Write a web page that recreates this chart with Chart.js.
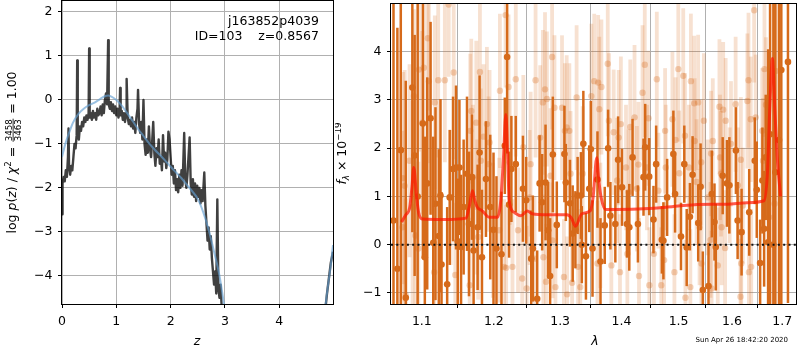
<!DOCTYPE html>
<html>
<head>
<meta charset="utf-8">
<script src="https://cdn.jsdelivr.net/npm/chart.js@4.4.0/dist/chart.umd.min.js"></script>
<style>
  html, body { margin: 0; padding: 0; background: #fff; }
  #wrap { position: relative; width: 800px; height: 350px; overflow: hidden; }
  #pz { position: absolute; left: 0; top: 0; }
  #sp { position: absolute; left: 335px; top: 0; }
</style>
</head>
<body>
<div id="wrap">
  <canvas id="pz" width="340" height="350" style="width:340px;height:350px"></canvas>
  <canvas id="sp" width="465" height="350" style="width:465px;height:350px"></canvas>
</div>
<script>
// ------------------------------------------------------------
// LEFT PANEL: log p(z)
// ------------------------------------------------------------
const zGrid = [
  0.00, 0.01, 0.03, 0.05, 0.07, 0.09, 0.11, 0.12, 0.13, 0.15, 0.17, 0.19, 0.21, 0.23, 0.25, 0.27,
  0.28, 0.29, 0.31, 0.33, 0.35, 0.37, 0.39, 0.41, 0.43, 0.45, 0.47, 0.49, 0.50, 0.51, 0.53, 0.55,
  0.57, 0.59, 0.61, 0.63, 0.65, 0.67, 0.69, 0.71, 0.73, 0.75, 0.77, 0.79, 0.81, 0.83, 0.85, 0.86,
  0.88, 0.90, 0.92, 0.94, 0.96, 0.98, 1.00, 1.02, 1.04, 1.06, 1.07, 1.08, 1.10, 1.12, 1.14, 1.16,
  1.18, 1.19, 1.21, 1.23, 1.25, 1.27, 1.29, 1.31, 1.33, 1.35, 1.37, 1.39, 1.40, 1.42, 1.44, 1.46,
  1.48, 1.50, 1.52, 1.54, 1.56, 1.58, 1.60, 1.62, 1.64, 1.66, 1.68, 1.70, 1.72, 1.74, 1.76, 1.78,
  1.80, 1.82, 1.84, 1.86, 1.88, 1.90, 1.92, 1.94, 1.96, 1.98, 2.00, 2.02, 2.04, 2.06, 2.08, 2.10,
  2.12, 2.14, 2.16, 2.18, 2.20, 2.22, 2.25, 2.27, 2.29, 2.31, 2.35, 2.37, 2.39, 2.41, 2.43, 2.45,
  2.47, 2.49, 2.51, 2.53, 2.55, 2.57, 2.59, 2.62, 2.64, 2.66, 2.68, 2.70, 2.72, 2.74, 2.76, 2.78,
  2.80, 2.82, 2.84, 2.86, 2.88, 2.90, 2.92, 2.94, 2.97, 3.00, 4.80, 4.85, 4.88, 4.92, 4.95, 4.99
];
const lnpz = [
  -2.60, -1.90, -1.75, -1.85, -1.60, -1.75, -1.30, -0.65, -1.50, -1.70, -1.50, -1.60, -1.30, -1.00, -1.10, -0.80,
  0.90, -0.75, -0.90, -0.60, -0.70, -0.50, -0.60, -0.40, -0.50, -0.35, -0.45, -0.30, 1.17, -0.40, -0.30, -0.45,
  -0.25, -0.40, -0.30, -0.45, -0.20, -0.35, -0.30, -0.15, -0.35, -0.10, -0.30, 0.00, 0.15, -0.10, 1.36, -0.10,
  -0.20, -0.05, -0.25, -0.10, -0.30, -0.15, -0.35, -0.20, -0.40, -0.25, 0.27, -0.35, -0.25, -0.45, -0.30, -0.50,
  -0.30, 0.48, -0.40, -0.55, -0.45, -0.60, -0.40, -0.65, -0.50, -0.75, -0.40, -0.20, 0.23, -0.55, -0.75, -0.50,
  -0.90, 0.00, -1.00, -1.25, -0.90, -1.20, -0.60, -1.10, -1.30, -0.95, -0.50, -1.20, -1.50, -1.10, -1.30, -0.90,
  -1.45, -1.30, -1.60, -0.80, -1.40, -1.20, -1.55, -1.35, -0.72, -0.90, -1.30, -1.70, -1.50, -1.90, -1.60, -2.05,
  -1.80, -2.10, -1.70, -2.00, -1.60, -1.95, -0.75, -1.80, -2.00, -1.70, -0.85, -1.90, -2.15, -1.80, -2.20, -1.90,
  -2.30, -1.95, -2.20, -2.00, -2.35, -2.05, -2.30, -1.65, -2.40, -2.80, -3.20, -2.90, -3.40, -3.10, -3.60, -3.90,
  -4.20, -3.90, -4.40, -2.26, -4.30, -4.50, -4.20, -4.70, -5.20, -6.00, -5.60, -4.75, -4.40, -4.00, -3.70, -3.45
];
const zTempl = [
  0.00, 0.05, 0.10, 0.15, 0.20, 0.30, 0.40, 0.50, 0.60, 0.70, 0.80, 0.85, 0.90, 1.00, 1.10, 1.20,
  1.30, 1.40, 1.50, 1.60, 1.70, 1.80, 1.90, 2.00, 2.10, 2.20, 2.30, 2.40, 2.50, 2.60, 2.70, 2.80,
  2.90, 3.00, 3.10, 4.75, 4.80, 4.85, 4.90, 4.95, 4.99
];
const lnpTempl = [
  -1.30, -1.05, -0.85, -0.68, -0.52, -0.32, -0.20, -0.12, -0.06, 0.02, 0.09, 0.10, 0.08, 0.00, -0.13, -0.30,
  -0.48, -0.66, -0.82, -0.98, -1.12, -1.25, -1.38, -1.52, -1.65, -1.78, -1.93, -2.08, -2.25, -2.55, -2.95, -3.45,
  -4.00, -4.80, -5.80, -6.50, -5.40, -4.70, -4.20, -3.75, -3.30
];
const zTicks = [0, 1, 2, 3, 4];
const lnpTicks = [-4, -3, -2, -1, 0, 1, 2];

// ------------------------------------------------------------
// RIGHT PANEL: spectrum
// ------------------------------------------------------------
const modelWave = [
  1.0733, 1.0790, 1.0840, 1.0870, 1.0893, 1.0930, 1.0960, 1.1015, 1.1300, 1.1603, 1.1650, 1.1695,
  1.1730, 1.1765, 1.1833, 1.1932, 1.2053, 1.2100, 1.2140, 1.2175, 1.2200, 1.2225, 1.2298, 1.2400,
  1.2495, 1.2570, 1.2800, 1.3108, 1.3180, 1.3243, 1.3345, 1.3480, 1.3530, 1.3588, 1.3625, 1.3660,
  1.3736, 1.4285, 1.4800, 1.5292, 1.5910, 1.6300, 1.6630, 1.6700, 1.6750, 1.6800, 1.6850, 1.6900, 1.6966
];
const modelFlux = [
  0.47, 0.62, 0.77, 1.20, 1.60, 1.00, 0.65, 0.53, 0.52, 0.55, 0.80, 1.12,
  0.90, 0.77, 0.70, 0.57, 0.57, 0.91, 1.80, 2.70, 1.90, 0.91, 0.67, 0.60,
  0.70, 0.64, 0.62, 0.62, 0.55, 0.38, 0.64, 0.70, 1.00, 1.80, 1.30, 0.98,
  0.73, 0.74, 0.78, 0.83, 0.84, 0.87, 0.91, 1.50, 2.90, 3.86, 2.80, 1.80, 1.00
];

const darkWave = [
  1.0630, 1.0680, 1.0724, 1.0789, 1.0875, 1.0905, 1.0945, 1.1014, 1.1040, 1.1072, 1.1117, 1.1153,
  1.1183, 1.1228, 1.1251, 1.1265, 1.1342, 1.1377, 1.1423, 1.1464, 1.1488, 1.1511, 1.1534, 1.1570,
  1.1617, 1.1645, 1.1687, 1.1710, 1.1767, 1.1795, 1.1829, 1.1886, 1.1948, 1.1995, 1.2038, 1.2111,
  1.2160, 1.2194, 1.2223, 1.2257, 1.2322, 1.2429, 1.2478, 1.2554, 1.2579, 1.2645, 1.2682, 1.2721,
  1.2773, 1.2813, 1.2844, 1.2886, 1.2948, 1.3068, 1.3090, 1.3156, 1.3199, 1.3242, 1.3278, 1.3331,
  1.3345, 1.3370, 1.3412, 1.3466, 1.3492, 1.3519, 1.3600, 1.3650, 1.3720, 1.3776, 1.3814, 1.3897,
  1.3943, 1.4010, 1.4094, 1.4133, 1.4189, 1.4281, 1.4378, 1.4407, 1.4477, 1.4552, 1.4599, 1.4700,
  1.4728, 1.4794, 1.4906, 1.4937, 1.5044, 1.5104, 1.5148, 1.5207, 1.5256, 1.5360, 1.5404, 1.5446,
  1.5552, 1.5614, 1.5665, 1.5690, 1.5821, 1.5903, 1.5949, 1.6076, 1.6109, 1.6186, 1.6336, 1.6446,
  1.6486, 1.6553, 1.6599, 1.6633, 1.6665, 1.6713, 1.6753, 1.6820, 1.6860, 1.6935, 1.6982, 1.7119
];
const darkFlux = [
  0.50, -0.50, 1.96, -1.10, 3.26, 1.85, 1.00, 2.51, -0.26, 1.27, 2.62, 0.04,
  0.85, 0.18, 1.02, -0.41, -0.82, 0.98, 1.57, 1.60, 0.07, 1.60, -0.05, 0.78,
  1.47, 0.43, 1.40, -0.12, 0.36, 1.91, -0.26, 1.36, 0.78, 0.31, -0.08, -0.20,
  2.05, 3.89, 0.83, 1.57, 1.67, 1.16, 0.92, -0.29, -0.08, -1.12, 1.27, 0.88,
  1.29, 0.30, -0.65, 1.87, 0.41, 1.88, 1.29, 0.86, 0.23, 0.31, 1.02, 1.02,
  0.00, 2.09, -0.24, 1.16, 1.98, -0.08, 1.35, -0.35, 0.40, 2.00, 0.60, 0.43,
  1.76, 1.19, 0.43, 0.36, 1.81, 0.43, 1.40, 2.02, 1.41, 0.52, 1.67, 0.10,
  0.08, 0.98, 1.88, 1.05, 0.17, 1.67, -0.06, 0.58, 1.45, 0.45, 1.20, -0.94,
  -0.86, 1.05, 0.47, -0.05, 1.43, 1.27, 1.23, 1.95, 0.50, 0.26, 0.67, 1.74,
  1.14, -0.38, 1.33, 0.33, 1.81, 0.05, 2.29, 0.00, 1.50, 2.17, 3.62, 3.79
];
const darkErr = [
  5.0, 5.0, 4.0, 4.5, 3.0, 2.5, 4.0, 2.8, 2.5, 2.2, 2.0, 2.2,
  2.0, 1.8, 2.0, 1.5, 1.6, 1.4, 1.5, 1.7, 1.3, 1.4, 1.5, 1.4,
  1.6, 1.5, 1.3, 1.5, 1.3, 1.6, 1.4, 1.2, 1.5, 1.6, 1.5, 1.3,
  1.0, 2.0, 1.1, 1.1, 1.0, 1.1, 0.9, 1.0, 1.1, 1.0, 1.0, 1.0,
  1.2, 1.0, 1.2, 1.2, 0.9, 1.0, 0.8, 0.9, 1.0, 0.8, 0.8, 0.9,
  0.8, 1.1, 0.9, 0.9, 1.0, 1.0, 1.0, 0.9, 0.8, 0.8, 0.7, 0.8,
  0.9, 0.8, 0.7, 0.9, 0.8, 0.8, 0.8, 0.9, 0.8, 0.7, 0.8, 0.7,
  0.8, 0.8, 0.9, 0.8, 0.7, 0.8, 0.8, 0.7, 0.8, 0.8, 0.9, 0.8,
  0.9, 0.9, 0.8, 0.9, 0.8, 0.9, 1.0, 0.9, 0.8, 0.9, 0.9, 0.9,
  1.0, 0.9, 1.1, 1.2, 1.3, 4.0, 4.0, 5.0, 5.0, 4.0, 5.0, 5.0
];

const lightWave = [
  1.0746, 1.0753, 1.0775, 1.0789, 1.0838, 1.0878, 1.0895, 1.0915, 1.0954, 1.0962, 1.1006, 1.1027,
  1.1080, 1.1094, 1.1165, 1.1174, 1.1220, 1.1310, 1.1363, 1.1390, 1.1432, 1.1454, 1.1655, 1.1663,
  1.1677, 1.1701, 1.1748, 1.1760, 1.1775, 1.1800, 1.1812, 1.1852, 1.1900, 1.1924, 1.1938, 1.1985,
  1.2078, 1.2088, 1.2150, 1.2171, 1.2180, 1.2215, 1.2233, 1.2273, 1.2322, 1.2356, 1.2418, 1.2435,
  1.2485, 1.2530, 1.2545, 1.2605, 1.2620, 1.2691, 1.2732, 1.2740, 1.2765, 1.2780, 1.2794, 1.2850,
  1.2875, 1.2880, 1.2912, 1.2927, 1.3030, 1.3060, 1.3075, 1.3104, 1.3110, 1.3146, 1.3165, 1.3190,
  1.3262, 1.3285, 1.3320, 1.3359, 1.3500, 1.3547, 1.3600, 1.3612, 1.3630, 1.3648, 1.3665, 1.3770,
  1.3790, 1.3830, 1.3869, 1.3927, 1.3954, 1.3975, 1.3990, 1.4077, 1.4100, 1.4121, 1.4150, 1.4223,
  1.4264, 1.4290, 1.4300, 1.4361, 1.4400, 1.4438, 1.4465, 1.4480, 1.4560, 1.4611, 1.4639, 1.4690,
  1.4740, 1.4758, 1.4770, 1.4889, 1.4925, 1.4945, 1.4995, 1.5013, 1.5085, 1.5116, 1.5125, 1.5189,
  1.5215, 1.5225, 1.5286, 1.5295, 1.5330, 1.5359, 1.5385, 1.5415, 1.5420, 1.5465, 1.5539, 1.5590,
  1.5601, 1.5610, 1.5633, 1.5727, 1.5759, 1.5770, 1.5789, 1.5800, 1.5830, 1.5867, 1.5878, 1.5955,
  1.5980, 1.6070, 1.6115, 1.6165, 1.6172, 1.6180, 1.6211, 1.6300, 1.6322, 1.6330, 1.6367, 1.6375,
  1.6434, 1.6465, 1.6595, 1.6610, 1.6640, 1.6670, 1.6733, 1.6845, 1.6865
];
const lightFlux = [
  0.36, 1.38, 1.22, -1.05, 1.74, 0.78, 3.08, 0.19, -0.08, 3.63, 2.53, 3.67,
  4.28, 3.39, -0.57, 2.95, 3.41, 3.41, 4.98, 0.98, 3.57, -0.63, -0.84, 2.36,
  2.77, 1.40, 2.53, 0.78, 0.16, 3.58, 1.74, 2.24, 2.50, 1.67, 2.12, 0.30,
  0.30, 3.19, -0.46, 4.76, -0.48, 3.27, 1.71, -0.46, 3.43, 0.30, -0.70, 2.02,
  -0.91, 0.98, 1.67, -0.29, 3.41, 2.22, 2.95, -0.26, 3.22, -0.77, 3.02, 1.43,
  3.89, 0.09, 2.84, -0.88, 2.84, -0.67, 2.36, 2.43, -1.03, 2.36, 1.47, -0.79,
  3.05, -0.46, -0.88, 1.47, 3.08, 3.39, -0.39, 3.36, 2.81, 0.40, 3.27, 3.75,
  2.57, -0.43, 2.33, 1.33, 2.22, -0.57, 2.50, 1.60, -0.19, 1.09, 2.44, 2.64,
  1.16, 1.66, -0.65, 3.15, 3.73, 1.60, 2.62, -0.84, -0.19, 3.43, 1.12, -0.84,
  -0.32, 2.36, 1.60, 2.60, -0.57, 2.17, 3.64, 1.48, 3.50, 2.26, -1.10, 1.60,
  -0.88, 3.39, 2.93, 2.15, 1.30, 2.95, 0.36, 1.71, -0.39, 2.57, 0.98, 0.10,
  1.89, -0.91, 2.15, -0.43, 2.86, 1.81, 1.47, 0.36, 2.80, -0.07, 2.57, 1.23,
  2.09, 2.91, 1.23, -1.08, 1.76, -0.39, 0.81, 2.98, 3.41, -0.57, 2.60, -0.46,
  4.86, 2.64, 2.36, 1.74, 3.64, 2.90, 0.57, 0.85, 3.60
];
const lightErr = [
  2.0, 2.2, 2.4, 2.0, 2.0, 2.2, 1.8, 1.6, 1.8, 1.7, 1.9, 1.6,
  1.5, 1.7, 1.6, 1.8, 1.6, 1.7, 1.5, 1.4, 1.8, 1.5, 1.4, 1.6,
  1.5, 1.5, 1.7, 1.4, 1.3, 1.6, 1.5, 1.5, 1.6, 1.4, 1.5, 1.4,
  1.5, 1.6, 1.4, 1.5, 1.3, 1.5, 1.3, 1.4, 1.6, 1.3, 1.4, 1.5,
  1.3, 1.4, 1.5, 1.3, 1.6, 1.5, 1.5, 1.3, 1.6, 1.2, 1.4, 1.4,
  1.5, 1.2, 1.5, 1.3, 1.5, 1.2, 1.4, 1.5, 1.2, 1.4, 1.3, 1.3,
  1.5, 1.2, 1.3, 1.4, 1.5, 1.4, 1.3, 1.4, 1.5, 1.3, 1.4, 1.5,
  1.4, 1.2, 1.3, 1.3, 1.4, 1.2, 1.4, 1.3, 1.2, 1.3, 1.4, 1.5,
  1.3, 1.3, 1.2, 1.4, 1.5, 1.3, 1.4, 1.2, 1.2, 1.4, 1.2, 1.2,
  1.2, 1.3, 1.3, 1.4, 1.2, 1.3, 1.5, 1.3, 1.4, 1.3, 1.2, 1.3,
  1.2, 1.4, 1.4, 1.3, 1.3, 1.4, 1.2, 1.3, 1.2, 1.4, 1.2, 1.2,
  1.3, 1.2, 1.3, 1.2, 1.4, 1.3, 1.3, 1.2, 1.4, 1.2, 1.3, 1.2,
  1.3, 1.4, 1.2, 1.2, 1.3, 1.2, 1.2, 1.4, 1.4, 1.2, 1.3, 1.2,
  1.5, 1.3, 1.3, 1.3, 1.4, 1.4, 1.5, 1.6, 1.5
];
const waveTicks = [1.1, 1.2, 1.3, 1.4, 1.5, 1.6, 1.7];
const fluxTicks = [-1, 0, 1, 2, 3, 4];

// ------------------------------------------------------------
// ESTILO COMÚN
// ------------------------------------------------------------
const FONT = "'DejaVu Sans', sans-serif";
const TICK_SIZE = 12.5;
const ORANGE = "rgb(214,106,26)";
const ORANGE_LIGHT = "rgba(214,106,26,0.2)";
const ORANGE_LIGHT_PT = "rgba(214,106,26,0.3)";

const minus = (v) => String(v).replace("-", "\u2212");

function fixedTicks(values) {
  return (scale) => { scale.ticks = values.map((v) => ({ value: v })); };
}
function fixedSize(prop, size) {
  return (scale) => {
    scale[prop] = size;
    scale.paddingLeft = scale.paddingRight = scale.paddingTop = scale.paddingBottom = 0;
  };
}
function axis(extra, ticks, sizeProp, size, pad, fmt) {
  return Object.assign({
    afterBuildTicks: fixedTicks(ticks),
    afterFit: fixedSize(sizeProp, size),
    grid: { color: "#b0b0b0", lineWidth: 1, drawTicks: true, tickLength: 4, tickColor: "#000", tickWidth: 1 },
    border: { display: false },
    ticks: {
      color: "#000", padding: pad, maxRotation: 0, autoSkip: false,
      font: { family: FONT, size: TICK_SIZE },
      callback: fmt,
    },
  }, extra);
}

// texto enriquecido (itálicas, sub/superíndices, fracciones)
function drawRich(ctx, parts, x, y, rotated, align) {
  ctx.save();
  ctx.translate(x, y);
  if (rotated) ctx.rotate(-Math.PI / 2);
  const fnt = (p) => `${p.italic ? "italic " : ""}${p.size || TICK_SIZE}px ${FONT}`;
  let total = 0;
  for (const p of parts) {
    ctx.font = fnt(p);
    if (p.frac) {
      p.w = Math.max(ctx.measureText(p.frac[0]).width, ctx.measureText(p.frac[1]).width) + 3;
    } else {
      p.w = ctx.measureText(p.t).width;
    }
    total += p.w;
  }
  let u = align === "right" ? -total : align === "left" ? 0 : -total / 2;
  ctx.fillStyle = "#000";
  ctx.textBaseline = "alphabetic";
  for (const p of parts) {
    ctx.font = fnt(p);
    if (p.frac) {
      ctx.textAlign = "center";
      ctx.fillText(p.frac[0], u + p.w / 2, -4);
      ctx.fillText(p.frac[1], u + p.w / 2, 5.5);
      ctx.fillRect(u + 1, -2.8, p.w - 2, 0.8);
    } else {
      ctx.textAlign = "left";
      ctx.fillText(p.t, u, p.dy || 0);
    }
    u += p.w;
  }
  ctx.restore();
}

const framePlugin = {
  id: "frame",
  afterDatasetsDraw(chart) {
    const { ctx, chartArea: a } = chart;
    ctx.save();
    ctx.strokeStyle = "#000";
    ctx.lineWidth = 1;
    ctx.strokeRect(Math.round(a.left) - 0.5, Math.round(a.top) - 0.5,
      Math.round(a.right - a.left) + 1, Math.round(a.bottom - a.top) + 1);
    ctx.restore();
  },
};

// ------------------------------------------------------------
// GRÁFICO IZQUIERDO
// ------------------------------------------------------------
const leftLabels = {
  id: "leftLabels",
  afterDraw(chart) {
    const ctx = chart.ctx;
    drawRich(ctx, [
      { t: "log " }, { t: "p", italic: true }, { t: "(" }, { t: "z", italic: true }, { t: ") / " },
      { t: "\u03c7", italic: true }, { t: "2", size: 8.7, dy: -5 }, { t: " = " },
      { frac: ["3458", "3463"], size: 8.7 }, { t: " = 1.00" },
    ], 15.5, 152.5, true);
    drawRich(ctx, [{ t: "z", italic: true }], 197, 345, false);
    drawRich(ctx, [{ t: "j163852p4039" }], 319, 25, false, "right");
    drawRich(ctx, [{ t: "ID=103    z=0.8567" }], 319, 39.5, false, "right");
  },
};

new Chart(document.getElementById("pz"), {
  type: "scatter",
  data: {
    datasets: [
      {
        data: zGrid.map((z, i) => ({ x: z, y: lnpz[i] })),
        showLine: true, pointRadius: 0, borderColor: "rgba(0,0,0,0.75)", borderWidth: 2.4,
        borderJoinStyle: "round", order: 2,
      },
      {
        data: zTempl.map((z, i) => ({ x: z, y: lnpTempl[i] })),
        showLine: true, pointRadius: 0, borderColor: "rgba(100,160,210,0.65)", borderWidth: 2,
        cubicInterpolationMode: "monotone", order: 1,
      },
    ],
  },
  options: {
    responsive: false, animation: false, devicePixelRatio: 1,
    layout: { padding: { left: 0, right: 7, top: 1, bottom: 0 } },
    plugins: { legend: { display: false }, tooltip: { enabled: false } },
    scales: {
      x: axis({ type: "linear", min: 0, max: 4.99 }, zTicks, "height", 46, 6, (v) => minus(v)),
      y: axis({ type: "linear", min: -4.64, max: 2.25 }, lnpTicks, "width", 62, 5.5, (v) => minus(v)),
    },
  },
  plugins: [framePlugin, leftLabels],
});

// ------------------------------------------------------------
// GRÁFICO DERECHO
// ------------------------------------------------------------
const rightLabels = {
  id: "rightLabels",
  afterDraw(chart) {
    const ctx = chart.ctx;
    drawRich(ctx, [
      { t: "f", italic: true }, { t: "\u03bb", italic: true, size: 8.7, dy: 3 },
      { t: " \u00d7 10" }, { t: "\u221219", size: 8.7, dy: -5 },
    ], 346 - 335, 153.5, true);
    drawRich(ctx, [{ t: "\u03bb", italic: true }], 595 - 335, 345, false);
    ctx.save();
    ctx.font = `7px ${FONT}`;
    ctx.fillStyle = "#000";
    ctx.textAlign = "right";
    ctx.fillText("Sun Apr 26 18:42:20 2020", 788 - 335, 342);
    ctx.restore();
  },
};

new Chart(document.getElementById("sp"), {
  type: "scatter",
  data: {
    datasets: [
      {
        type: "bar",
        data: lightWave.map((w, i) => ({ x: w, y: [lightFlux[i] - lightErr[i], lightFlux[i] + lightErr[i]] })),
        backgroundColor: ORANGE_LIGHT, barThickness: 3.8, grouped: false, borderWidth: 0,
        inflateAmount: 0, order: 6,
      },
      {
        data: lightWave.map((w, i) => ({ x: w, y: lightFlux[i] })),
        pointRadius: 3.2, pointBorderWidth: 0, backgroundColor: ORANGE_LIGHT_PT, order: 5,
      },
      {
        type: "bar",
        data: darkWave.map((w, i) => ({ x: w, y: [darkFlux[i] - darkErr[i], darkFlux[i] + darkErr[i]] })),
        backgroundColor: ORANGE, barThickness: 2.5, grouped: false, borderWidth: 0,
        inflateAmount: 0, order: 4,
      },
      {
        data: darkWave.map((w, i) => ({ x: w, y: darkFlux[i] })),
        pointRadius: 3.3, pointBorderWidth: 0, backgroundColor: ORANGE, order: 3,
      },
      {
        type: "line",
        data: modelWave.map((w, i) => ({ x: w, y: modelFlux[i] })),
        pointRadius: 0, borderColor: "rgba(255,20,0,0.7)", borderWidth: 3,
        borderJoinStyle: "round", cubicInterpolationMode: "monotone", order: 2,
      },
      {
        type: "line",
        data: [{ x: 1.0598, y: 0 }, { x: 1.7286, y: 0 }],
        pointRadius: 0, borderColor: "#111", borderWidth: 2, borderDash: [2, 3.3], order: 1,
      },
    ],
  },
  options: {
    responsive: false, animation: false, devicePixelRatio: 1,
    layout: { padding: { left: 0, right: 1, top: 1, bottom: 0 } },
    plugins: { legend: { display: false }, tooltip: { enabled: false } },
    scales: {
      x: axis({ type: "logarithmic", min: 1.0598, max: 1.7286, offset: false }, waveTicks, "height", 46, 6, (v) => Number(v).toFixed(1)),
      y: axis({ type: "linear", min: -1.23, max: 4.99 }, fluxTicks, "width", 56, 5.5, (v) => minus(v)),
    },
  },
  plugins: [framePlugin, rightLabels],
});
</script>
</body>
</html>
